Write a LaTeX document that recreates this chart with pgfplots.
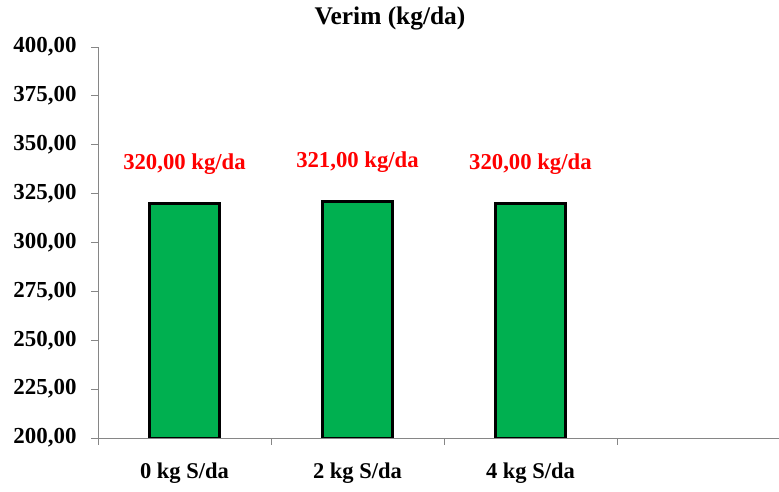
\documentclass[border=0pt]{standalone}
\usepackage{pgfplots}
\pgfplotsset{compat=1.18}
\usepackage{fontspec}
\setmainfont{Liberation Serif}
\definecolor{bargreen}{HTML}{00B050}
\definecolor{axgray}{HTML}{868686}
\begin{document}
\begin{tikzpicture}[x=1bp,y=1bp]
\useasboundingbox (0,0) rectangle (779,492);
\node[font=\bfseries\fontsize{25.5}{30}\selectfont] at (390,474) {Verim (kg/da)};
\begin{axis}[
  at={(98bp,54bp)}, anchor=south west,
  scale only axis, width=681bp, height=391bp,
  xmin=-0.5, xmax=3.437, ymin=200, ymax=400,
  axis lines*=left,
  axis line style={color=axgray, line width=0.8bp},
  every tick/.style={color=axgray, line width=0.8bp},
  tick align=outside,
  ytick={200,225,...,400},
  major tick length=7bp,
  xtick={-0.5,0.5,1.5,2.5},
  xticklabels={},
  extra x ticks={0,1,2},
  extra x tick labels={0 kg S/da, 2 kg S/da, 4 kg S/da},
  extra x tick style={major tick length=0pt},
  /pgf/number format/.cd, fixed, fixed zerofill, precision=2, use comma, 1000 sep={}, assume math mode=true,
  /pgfplots/.cd,
  yticklabel style={font=\bfseries\fontsize{23}{26}\selectfont, xshift=-11bp},
  xticklabel style={font=\bfseries\fontsize{22.6}{26}\selectfont, yshift=-21bp},
  ybar, bar width=70bp,
  point meta=explicit symbolic,
  nodes near coords,
  every node near coord/.append style={anchor=center, yshift=39bp, font=\bfseries\fontsize{22.8}{26}\selectfont, text=red},
  clip=true,
]
\addplot[fill=bargreen, draw=black, line width=2.6bp] coordinates {
  (0,320) [320,00 kg/da]
  (1,321) [321,00 kg/da]
  (2,320) [320,00 kg/da]
};
\end{axis}
\end{tikzpicture}
\end{document}
